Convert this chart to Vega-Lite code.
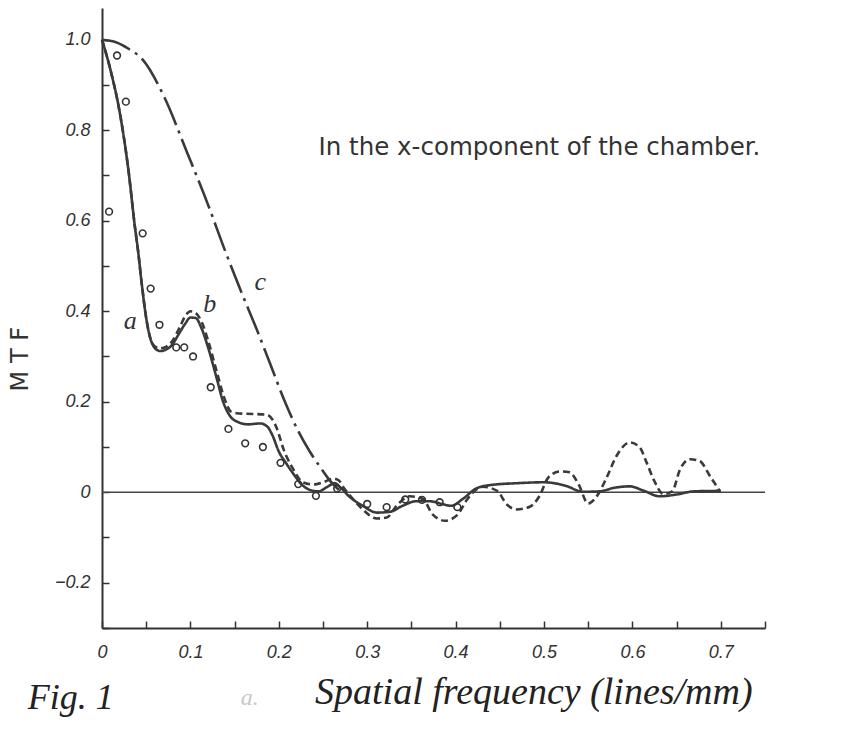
{
  "$schema": "https://vega.github.io/schema/vega-lite/v6.json",
  "width": 663,
  "height": 620,
  "autosize": "none",
  "padding": {"left": 102, "top": 8, "right": 93, "bottom": 101},
  "background": "white",
  "config": {"view": {"stroke": null}},
  "datasets": {
    "curves": [
      {"f": 0, "mtf": 1.0, "curve": "a"}, {"f": 0.01, "mtf": 0.93, "curve": "a"}, {"f": 0.02, "mtf": 0.84, "curve": "a"}, {"f": 0.03, "mtf": 0.71, "curve": "a"}, {"f": 0.037, "mtf": 0.59, "curve": "a"}, {"f": 0.041, "mtf": 0.53, "curve": "a"}, {"f": 0.045, "mtf": 0.46, "curve": "a"}, {"f": 0.05, "mtf": 0.385, "curve": "a"}, {"f": 0.054, "mtf": 0.345, "curve": "a"}, {"f": 0.06, "mtf": 0.318, "curve": "a"}, {"f": 0.066, "mtf": 0.312, "curve": "a"}, {"f": 0.073, "mtf": 0.316, "curve": "a"}, {"f": 0.079, "mtf": 0.325, "curve": "a"}, {"f": 0.087, "mtf": 0.35, "curve": "a"}, {"f": 0.094, "mtf": 0.372, "curve": "a"}, {"f": 0.1, "mtf": 0.386, "curve": "a"}, {"f": 0.106, "mtf": 0.385, "curve": "a"}, {"f": 0.112, "mtf": 0.365, "curve": "a"}, {"f": 0.12, "mtf": 0.32, "curve": "a"}, {"f": 0.13, "mtf": 0.25, "curve": "a"}, {"f": 0.137, "mtf": 0.2, "curve": "a"}, {"f": 0.145, "mtf": 0.168, "curve": "a"}, {"f": 0.154, "mtf": 0.155, "curve": "a"}, {"f": 0.165, "mtf": 0.15, "curve": "a"}, {"f": 0.179, "mtf": 0.152, "curve": "a"}, {"f": 0.187, "mtf": 0.145, "curve": "a"}, {"f": 0.193, "mtf": 0.125, "curve": "a"}, {"f": 0.2, "mtf": 0.09, "curve": "a"}, {"f": 0.208, "mtf": 0.065, "curve": "a"}, {"f": 0.216, "mtf": 0.042, "curve": "a"}, {"f": 0.227, "mtf": 0.015, "curve": "a"}, {"f": 0.237, "mtf": 0.004, "curve": "a"}, {"f": 0.245, "mtf": 0.002, "curve": "a"}, {"f": 0.255, "mtf": 0.012, "curve": "a"}, {"f": 0.263, "mtf": 0.02, "curve": "a"}, {"f": 0.27, "mtf": 0.01, "curve": "a"}, {"f": 0.28, "mtf": -0.01, "curve": "a"}, {"f": 0.295, "mtf": -0.03, "curve": "a"}, {"f": 0.311, "mtf": -0.045, "curve": "a"}, {"f": 0.326, "mtf": -0.043, "curve": "a"}, {"f": 0.34, "mtf": -0.03, "curve": "a"}, {"f": 0.355, "mtf": -0.02, "curve": "a"}, {"f": 0.371, "mtf": -0.02, "curve": "a"}, {"f": 0.385, "mtf": -0.026, "curve": "a"}, {"f": 0.395, "mtf": -0.03, "curve": "a"}, {"f": 0.408, "mtf": -0.015, "curve": "a"}, {"f": 0.424, "mtf": 0.009, "curve": "a"}, {"f": 0.44, "mtf": 0.016, "curve": "a"}, {"f": 0.47, "mtf": 0.02, "curve": "a"}, {"f": 0.5, "mtf": 0.022, "curve": "a"}, {"f": 0.525, "mtf": 0.014, "curve": "a"}, {"f": 0.544, "mtf": 0.001, "curve": "a"}, {"f": 0.563, "mtf": 0.002, "curve": "a"}, {"f": 0.58, "mtf": 0.01, "curve": "a"}, {"f": 0.597, "mtf": 0.013, "curve": "a"}, {"f": 0.612, "mtf": 0.004, "curve": "a"}, {"f": 0.631, "mtf": -0.009, "curve": "a"}, {"f": 0.65, "mtf": -0.005, "curve": "a"}, {"f": 0.67, "mtf": 0.002, "curve": "a"}, {"f": 0.7, "mtf": 0.003, "curve": "a"},
      {"f": 0, "mtf": 1.0, "curve": "b"}, {"f": 0.01, "mtf": 0.93, "curve": "b"}, {"f": 0.02, "mtf": 0.84, "curve": "b"}, {"f": 0.03, "mtf": 0.71, "curve": "b"}, {"f": 0.037, "mtf": 0.59, "curve": "b"}, {"f": 0.041, "mtf": 0.53, "curve": "b"}, {"f": 0.045, "mtf": 0.46, "curve": "b"}, {"f": 0.05, "mtf": 0.385, "curve": "b"}, {"f": 0.054, "mtf": 0.345, "curve": "b"}, {"f": 0.06, "mtf": 0.322, "curve": "b"}, {"f": 0.066, "mtf": 0.318, "curve": "b"}, {"f": 0.073, "mtf": 0.322, "curve": "b"}, {"f": 0.08, "mtf": 0.335, "curve": "b"}, {"f": 0.088, "mtf": 0.365, "curve": "b"}, {"f": 0.095, "mtf": 0.392, "curve": "b"}, {"f": 0.1, "mtf": 0.4, "curve": "b"}, {"f": 0.106, "mtf": 0.396, "curve": "b"}, {"f": 0.113, "mtf": 0.375, "curve": "b"}, {"f": 0.12, "mtf": 0.335, "curve": "b"}, {"f": 0.13, "mtf": 0.265, "curve": "b"}, {"f": 0.138, "mtf": 0.21, "curve": "b"}, {"f": 0.146, "mtf": 0.178, "curve": "b"}, {"f": 0.155, "mtf": 0.174, "curve": "b"}, {"f": 0.17, "mtf": 0.173, "curve": "b"}, {"f": 0.187, "mtf": 0.171, "curve": "b"}, {"f": 0.193, "mtf": 0.16, "curve": "b"}, {"f": 0.198, "mtf": 0.14, "curve": "b"}, {"f": 0.205, "mtf": 0.097, "curve": "b"}, {"f": 0.216, "mtf": 0.052, "curve": "b"}, {"f": 0.227, "mtf": 0.022, "curve": "b"}, {"f": 0.239, "mtf": 0.017, "curve": "b"}, {"f": 0.25, "mtf": 0.022, "curve": "b"}, {"f": 0.262, "mtf": 0.03, "curve": "b"}, {"f": 0.268, "mtf": 0.026, "curve": "b"}, {"f": 0.273, "mtf": 0.011, "curve": "b"}, {"f": 0.284, "mtf": -0.015, "curve": "b"}, {"f": 0.295, "mtf": -0.038, "curve": "b"}, {"f": 0.311, "mtf": -0.058, "curve": "b"}, {"f": 0.322, "mtf": -0.056, "curve": "b"}, {"f": 0.334, "mtf": -0.028, "curve": "b"}, {"f": 0.348, "mtf": -0.009, "curve": "b"}, {"f": 0.363, "mtf": -0.015, "curve": "b"}, {"f": 0.374, "mtf": -0.049, "curve": "b"}, {"f": 0.388, "mtf": -0.063, "curve": "b"}, {"f": 0.402, "mtf": -0.05, "curve": "b"}, {"f": 0.413, "mtf": -0.016, "curve": "b"}, {"f": 0.431, "mtf": 0.012, "curve": "b"}, {"f": 0.447, "mtf": 0.003, "curve": "b"}, {"f": 0.458, "mtf": -0.027, "curve": "b"}, {"f": 0.469, "mtf": -0.038, "curve": "b"}, {"f": 0.484, "mtf": -0.032, "curve": "b"}, {"f": 0.495, "mtf": -0.008, "curve": "b"}, {"f": 0.505, "mtf": 0.033, "curve": "b"}, {"f": 0.518, "mtf": 0.046, "curve": "b"}, {"f": 0.529, "mtf": 0.044, "curve": "b"}, {"f": 0.539, "mtf": 0.018, "curve": "b"}, {"f": 0.55, "mtf": -0.025, "curve": "b"}, {"f": 0.56, "mtf": -0.008, "curve": "b"}, {"f": 0.571, "mtf": 0.033, "curve": "b"}, {"f": 0.582, "mtf": 0.08, "curve": "b"}, {"f": 0.597, "mtf": 0.11, "curve": "b"}, {"f": 0.608, "mtf": 0.1, "curve": "b"}, {"f": 0.616, "mtf": 0.066, "curve": "b"}, {"f": 0.625, "mtf": 0.024, "curve": "b"}, {"f": 0.635, "mtf": -0.004, "curve": "b"}, {"f": 0.645, "mtf": 0.002, "curve": "b"}, {"f": 0.654, "mtf": 0.051, "curve": "b"}, {"f": 0.665, "mtf": 0.073, "curve": "b"}, {"f": 0.676, "mtf": 0.069, "curve": "b"}, {"f": 0.688, "mtf": 0.035, "curve": "b"}, {"f": 0.699, "mtf": 0.002, "curve": "b"},
      {"f": 0, "mtf": 1.0, "curve": "c"}, {"f": 0.015, "mtf": 0.995, "curve": "c"}, {"f": 0.03, "mtf": 0.98, "curve": "c"}, {"f": 0.046, "mtf": 0.956, "curve": "c"}, {"f": 0.07, "mtf": 0.875, "curve": "c"}, {"f": 0.096, "mtf": 0.752, "curve": "c"}, {"f": 0.12, "mtf": 0.635, "curve": "c"}, {"f": 0.138, "mtf": 0.54, "curve": "c"}, {"f": 0.156, "mtf": 0.45, "curve": "c"}, {"f": 0.175, "mtf": 0.36, "curve": "c"}, {"f": 0.19, "mtf": 0.285, "curve": "c"}, {"f": 0.208, "mtf": 0.195, "curve": "c"}, {"f": 0.222, "mtf": 0.135, "curve": "c"}, {"f": 0.235, "mtf": 0.09, "curve": "c"}, {"f": 0.247, "mtf": 0.055, "curve": "c"}, {"f": 0.258, "mtf": 0.025, "curve": "c"}, {"f": 0.268, "mtf": 0.005, "curve": "c"}
    ],
    "points": [
      {"f": 0.008, "mtf": 0.62}, {"f": 0.017, "mtf": 0.965}, {"f": 0.027, "mtf": 0.863}, {"f": 0.046, "mtf": 0.572}, {"f": 0.055, "mtf": 0.45}, {"f": 0.065, "mtf": 0.37}, {"f": 0.084, "mtf": 0.32}, {"f": 0.093, "mtf": 0.32}, {"f": 0.103, "mtf": 0.3}, {"f": 0.123, "mtf": 0.232}, {"f": 0.143, "mtf": 0.14}, {"f": 0.162, "mtf": 0.108}, {"f": 0.182, "mtf": 0.1}, {"f": 0.202, "mtf": 0.065}, {"f": 0.222, "mtf": 0.018}, {"f": 0.242, "mtf": -0.008}, {"f": 0.266, "mtf": 0.008}, {"f": 0.3, "mtf": -0.026}, {"f": 0.322, "mtf": -0.033}, {"f": 0.343, "mtf": -0.016}, {"f": 0.362, "mtf": -0.017}, {"f": 0.382, "mtf": -0.022}, {"f": 0.402, "mtf": -0.033}
    ],
    "zero": [{"f": 0, "mtf": 0}, {"f": 0.75, "mtf": 0}],
    "labels": [
      {"f": 0.032, "mtf": 0.378, "label": "a"},
      {"f": 0.122, "mtf": 0.416, "label": "b"},
      {"f": 0.179, "mtf": 0.465, "label": "c"}
    ]
  },
  "layer": [
    {
      "data": {"name": "zero"},
      "mark": {"type": "line", "color": "#444", "strokeWidth": 1.3},
      "encoding": {
        "x": {"field": "f", "type": "quantitative", "scale": {"domain": [0, 0.75], "nice": false, "zero": false},
          "axis": {"values": [0, 0.05, 0.1, 0.15, 0.2, 0.25, 0.3, 0.35, 0.4, 0.45, 0.5, 0.55, 0.6, 0.65, 0.7, 0.75],
            "labelExpr": "round(datum.value*100) % 10 == 0 && datum.value < 0.74 ? (datum.value == 0 ? '0' : format(datum.value, '.1f')) : ''",
            "title": null, "grid": false, "domainColor": "#333", "domainWidth": 2, "tickColor": "#333", "tickWidth": 1.5, "tickSize": -7,
            "labelPadding": 22, "labelFont": "Liberation Sans", "labelFontStyle": "italic", "labelFontSize": 18, "labelColor": "#333", "labelFlush": false}},
        "y": {"field": "mtf", "type": "quantitative", "scale": {"domain": [-0.3, 1.07], "nice": false, "zero": false},
          "axis": {"values": [-0.3, -0.2, -0.1, 0, 0.1, 0.2, 0.3, 0.4, 0.5, 0.6, 0.7, 0.8, 0.9, 1.0],
            "labelExpr": "round(datum.value*10) % 2 == 0 ? (datum.value == 0 ? '0' : format(datum.value, '.1f')) : ''",
            "title": null, "grid": false, "domainColor": "#333", "domainWidth": 2, "tickColor": "#333", "tickWidth": 1.5, "tickSize": -7,
            "labelPadding": 19, "labelFont": "Liberation Sans", "labelFontStyle": "italic", "labelFontSize": 18, "labelColor": "#333", "labelFlush": false}}
      }
    },
    {
      "data": {"name": "curves"},
      "mark": {"type": "line", "color": "#3a3a3a", "strokeWidth": 2.6, "interpolate": "monotone"},
      "encoding": {
        "x": {"field": "f", "type": "quantitative"},
        "y": {"field": "mtf", "type": "quantitative"},
        "strokeDash": {"field": "curve", "type": "nominal", "scale": {"domain": ["a", "b", "c"], "range": [[1, 0], [7, 4], [30, 6, 3, 6]]}, "legend": null}
      }
    },
    {
      "data": {"name": "points"},
      "mark": {"type": "point", "shape": "circle", "filled": false, "color": "#333", "opacity": 1, "strokeWidth": 1.6, "size": 45},
      "encoding": {
        "x": {"field": "f", "type": "quantitative"},
        "y": {"field": "mtf", "type": "quantitative"}
      }
    },
    {
      "data": {"name": "labels"},
      "mark": {"type": "text", "font": "Liberation Serif", "fontStyle": "italic", "fontSize": 26, "color": "#333", "align": "center", "baseline": "middle"},
      "encoding": {"x": {"field": "f", "type": "quantitative"}, "y": {"field": "mtf", "type": "quantitative"}, "text": {"field": "label"}}
    },
    {
      "data": {"values": [{"note": "In the x-component of the chamber."}]},
      "mark": {"type": "text", "font": "DejaVu Sans", "fontSize": 24.5, "color": "#333", "align": "left", "baseline": "alphabetic"},
      "encoding": {"x": {"datum": 0.245}, "y": {"datum": 0.745}, "text": {"field": "note"}}
    },
    {
      "data": {"values": [{"t": "M  T  F"}]},
      "mark": {"type": "text", "font": "DejaVu Sans", "fontSize": 24, "color": "#333", "align": "center", "baseline": "middle", "angle": 270},
      "encoding": {"x": {"datum": -0.092}, "y": {"datum": 0.294}, "text": {"field": "t"}}
    },
    {
      "data": {"values": [{"t": "Spatial frequency (lines/mm)"}]},
      "mark": {"type": "text", "font": "Liberation Serif", "fontStyle": "italic", "fontSize": 38, "color": "#222", "align": "left", "baseline": "alphabetic"},
      "encoding": {"x": {"datum": 0.241}, "y": {"datum": -0.468}, "text": {"field": "t"}}
    },
    {
      "data": {"values": [{"t": "Fig. 1"}]},
      "mark": {"type": "text", "font": "Liberation Serif", "fontStyle": "italic", "fontSize": 36, "color": "#222", "align": "left", "baseline": "alphabetic"},
      "encoding": {"x": {"datum": -0.084}, "y": {"datum": -0.48}, "text": {"field": "t"}}
    },
    {
      "data": {"values": [{"t": "a."}]},
      "mark": {"type": "text", "font": "Liberation Serif", "fontStyle": "italic", "fontSize": 24, "color": "#c8c8c8", "align": "center", "baseline": "alphabetic"},
      "encoding": {"x": {"datum": 0.167}, "y": {"datum": -0.47}, "text": {"field": "t"}}
    }
  ]
}
